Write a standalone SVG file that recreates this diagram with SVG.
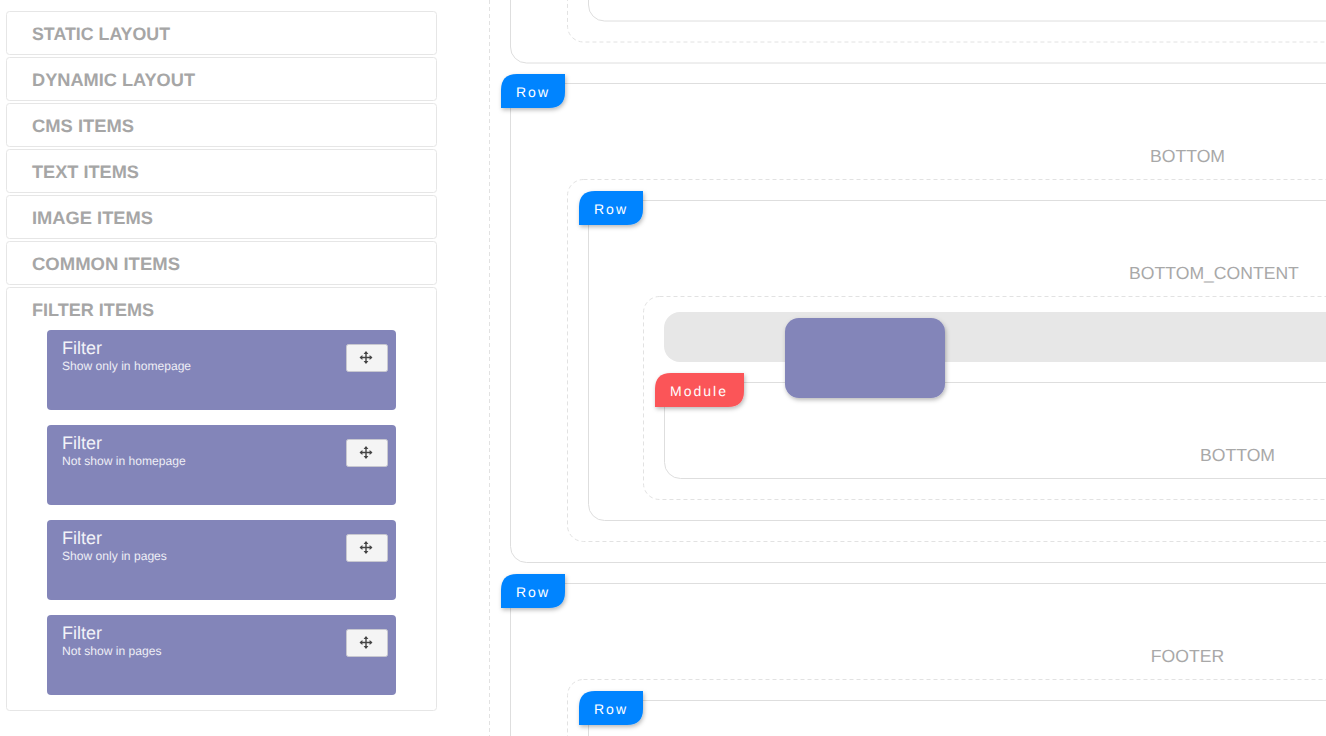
<svg xmlns="http://www.w3.org/2000/svg" width="1326" height="736" viewBox="0 0 1326 736">
<style>
text{font-family:"Liberation Sans",Arial,sans-serif;text-rendering:geometricPrecision}
.panel{fill:#fff;stroke:#e6e6e6;stroke-width:1}
.head{font-size:18px;font-weight:700;fill:#a6a6a6}
.card{fill:#8385b9}
.t1{font-size:18px;fill:#f2f2f8}
.t2{font-size:12.1px;fill:#eeeef6}
.btn{fill:#f4f4f4;stroke:#c8c8d0;stroke-width:1}
.solid{fill:#fff;stroke:#dedede;stroke-width:1}
.dash{fill:none;stroke:#e2e2e2;stroke-width:1;stroke-dasharray:4 3}
.lab{font-size:17.6px;fill:#a8a8a8;text-anchor:middle}
.tag{font-size:14px;fill:#fff;letter-spacing:2px;text-anchor:middle}
.row{fill:#0584ff;filter:url(#sh)}
.mod{fill:#fb5458;filter:url(#sh)}
.ico{fill:#444}
</style>
<defs>
<filter id="sh" x="-20%" y="-20%" width="140%" height="150%"><feDropShadow dx="1" dy="2" stdDeviation="2" flood-color="#000" flood-opacity="0.28"/></filter>
<path id="rowtag" d="M0 34V16Q0 0 16 0H64V18Q64 34 48 34Z"/>
<g id="move" class="ico">
<path d="M-5.5 -.7H5.5V.7H-5.5ZM-.7 -5.5H.7V5.5H-.7Z"/>
<path d="M0 -6.5L2.4 -3.6H-2.4ZM0 6.5L2.4 3.6H-2.4ZM-6.5 0L-3.6 -2.4V2.4ZM6.5 0L3.6 -2.4V2.4Z"/>
</g>
</defs>
<rect width="1326" height="736" fill="#fff"/>

<g id="panel-static"><rect class="panel" x="6.5" y="11.5" width="430" height="43" rx="3"/><text class="head" x="32" y="40" textLength="138" lengthAdjust="spacingAndGlyphs">STATIC LAYOUT</text></g>
<g id="panel-dynamic"><rect class="panel" x="6.5" y="57.5" width="430" height="43" rx="3"/><text class="head" x="32" y="86" textLength="163" lengthAdjust="spacingAndGlyphs">DYNAMIC LAYOUT</text></g>
<g id="panel-cms"><rect class="panel" x="6.5" y="103.5" width="430" height="43" rx="3"/><text class="head" x="32" y="132" textLength="102" lengthAdjust="spacingAndGlyphs">CMS ITEMS</text></g>
<g id="panel-text"><rect class="panel" x="6.5" y="149.5" width="430" height="43" rx="3"/><text class="head" x="32" y="178" textLength="107" lengthAdjust="spacingAndGlyphs">TEXT ITEMS</text></g>
<g id="panel-image"><rect class="panel" x="6.5" y="195.5" width="430" height="43" rx="3"/><text class="head" x="32" y="224" textLength="121" lengthAdjust="spacingAndGlyphs">IMAGE ITEMS</text></g>
<g id="panel-common"><rect class="panel" x="6.5" y="241.5" width="430" height="43" rx="3"/><text class="head" x="32" y="270" textLength="148" lengthAdjust="spacingAndGlyphs">COMMON ITEMS</text></g>
<g id="panel-filter"><rect class="panel" x="6.5" y="287.5" width="430" height="423" rx="3"/><text class="head" x="32" y="316" textLength="122" lengthAdjust="spacingAndGlyphs">FILTER ITEMS</text></g>

<g id="filter-1"><rect class="card" x="47" y="330" width="349" height="80" rx="4"/><text class="t1" x="62" y="354">Filter</text><text class="t2" x="62" y="370">Show only in homepage</text><rect class="btn" x="346.500" y="344.500" width="41" height="27" rx="2"/><use href="#move" x="366" y="357.500"/></g>
<g id="filter-2"><rect class="card" x="47" y="425" width="349" height="80" rx="4"/><text class="t1" x="62" y="449">Filter</text><text class="t2" x="62" y="465">Not show in homepage</text><rect class="btn" x="346.500" y="439.500" width="41" height="27" rx="2"/><use href="#move" x="366" y="452.500"/></g>
<g id="filter-3"><rect class="card" x="47" y="520" width="349" height="80" rx="4"/><text class="t1" x="62" y="544">Filter</text><text class="t2" x="62" y="560">Show only in pages</text><rect class="btn" x="346.500" y="534.500" width="41" height="27" rx="2"/><use href="#move" x="366" y="547.500"/></g>
<g id="filter-4"><rect class="card" x="47" y="615" width="349" height="80" rx="4"/><text class="t1" x="62" y="639">Filter</text><text class="t2" x="62" y="655">Not show in pages</text><rect class="btn" x="346.500" y="629.500" width="41" height="27" rx="2"/><use href="#move" x="366" y="642.500"/></g>

<g id="connectors"><line class="dash" x1="489.500" y1="0" x2="489.500" y2="736"/></g>

<g id="top-row">
<rect class="solid" x="510.500" y="-100" width="1000" height="163" rx="16"/>
<rect class="dash" x="567.500" y="-100" width="900" height="142" rx="16"/>
<rect class="solid" x="588.500" y="-100" width="900" height="121" rx="16"/>
</g>

<g id="bottom-row">
<rect class="solid" x="510.500" y="83.500" width="1000" height="479" rx="16"/>
<text class="lab" x="1187.500" y="162">BOTTOM</text>
<rect class="dash" x="567.500" y="179.500" width="900" height="362" rx="16"/>
<rect class="solid" x="588.500" y="200.500" width="900" height="320" rx="16"/>
<text class="lab" x="1214" y="279">BOTTOM_CONTENT</text>
<rect class="dash" x="643.500" y="296.500" width="800" height="203" rx="16"/>
<rect x="664" y="312" width="800" height="50" rx="16" fill="#e7e7e7"/>
<rect class="solid" x="664.500" y="382.500" width="800" height="96" rx="16"/>
<text class="lab" x="1237.500" y="461">BOTTOM</text>
<g id="tag-row-2"><use href="#rowtag" class="row" x="501" y="74"/><text class="tag" x="533" y="97">Row</text></g>
<g id="tag-row-3"><use href="#rowtag" class="row" x="579" y="191"/><text class="tag" x="611" y="214">Row</text></g>
<g id="tag-module"><path class="mod" d="M655 407V389Q655 373 671 373H744V391Q744 407 728 407Z"/><text class="tag" x="699" y="396">Module</text></g>
<g id="dragged"><rect x="785" y="318" width="160" height="80" rx="14" class="card" filter="url(#sh)"/></g>
</g>

<g id="footer-row">
<rect class="solid" x="510.500" y="583.500" width="1000" height="400" rx="16"/>
<text class="lab" x="1187.500" y="662">FOOTER</text>
<rect class="dash" x="567.500" y="679.500" width="900" height="300" rx="16"/>
<rect class="solid" x="588.500" y="700.500" width="900" height="200" rx="16"/>
<g id="tag-row-4"><use href="#rowtag" class="row" x="501" y="574"/><text class="tag" x="533" y="597">Row</text></g>
<g id="tag-row-5"><use href="#rowtag" class="row" x="579" y="691"/><text class="tag" x="611" y="714">Row</text></g>
</g>
</svg>
